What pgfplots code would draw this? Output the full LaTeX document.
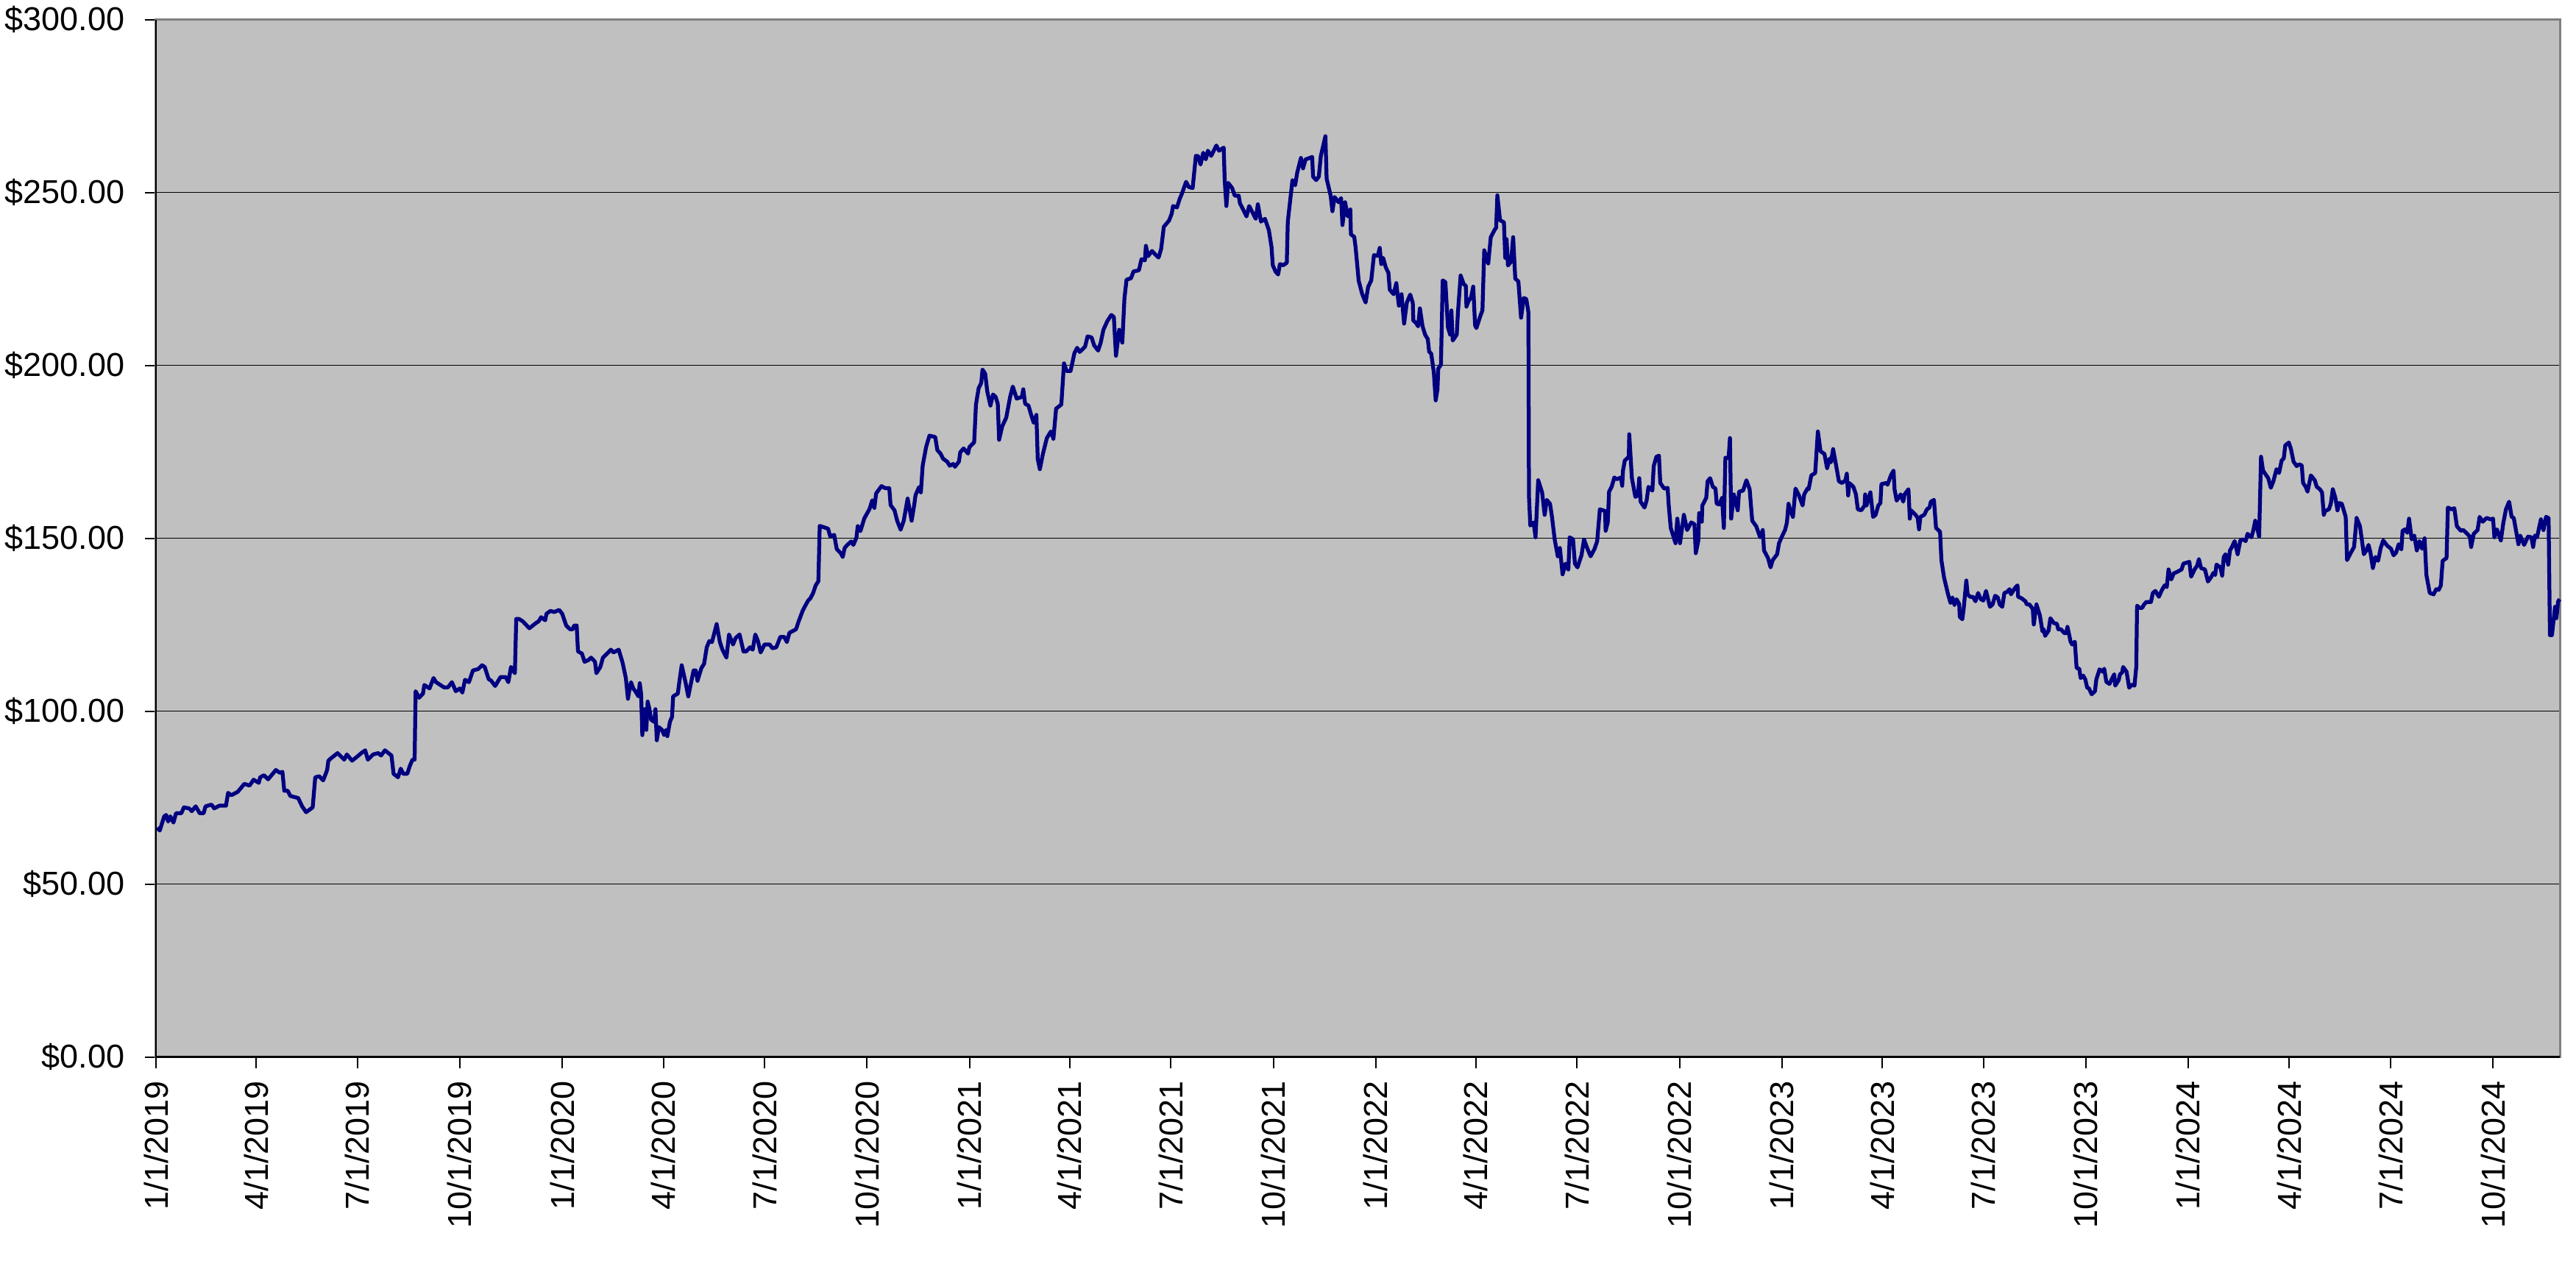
\documentclass[border=0pt]{standalone}
\usepackage{fontspec}
\setmainfont{Liberation Sans}
\usepackage{pgfplots}
\pgfplotsset{compat=1.18}
\definecolor{plotbg}{HTML}{C0C0C0}
\definecolor{navyline}{HTML}{000080}
\definecolor{framegray}{HTML}{808080}
\begin{document}
\begin{tikzpicture}
\begin{axis}[
  scale only axis, width=653.4bp, height=282bp,
  xmin=0, xmax=2160, ymin=0, ymax=300,
  axis background/.style={fill=plotbg},
  axis line style={draw=framegray, line width=0.6bp},
  ytick={0,50,100,150,200,250,300},
  yticklabels={\$0.00,\$50.00,\$100.00,\$150.00,\$200.00,\$250.00,\$300.00},
  xtick={0,90,181,273,365,456,547,639,731,821,912,1004,1096,1186,1277,1369,1461,1551,1642,1734,1826,1917,2008,2100},
  xticklabels={1/1/2019,4/1/2019,7/1/2019,10/1/2019,1/1/2020,4/1/2020,7/1/2020,10/1/2020,1/1/2021,4/1/2021,7/1/2021,10/1/2021,1/1/2022,4/1/2022,7/1/2022,10/1/2022,1/1/2023,4/1/2023,7/1/2023,10/1/2023,1/1/2024,4/1/2024,7/1/2024,10/1/2024},
  tick pos=left, tick align=outside,
  major tick length=3bp,
  tick style={black, line width=0.4bp},
  ymajorgrids, grid style={black, line width=0.3bp},
  xticklabel style={rotate=90, anchor=east},
  yticklabel style={xshift=-2bp},
  ticklabel style={font=\fontsize{9bp}{10bp}\selectfont},
  clip=false,
]
\addplot[navyline, line width=1.05bp, line join=round] coordinates {
(1.0,66.3)(3.4,65.5)(7.4,69.6)(9.1,70.0)(10.9,68.1)(12.8,69.6)(15.7,67.8)(18.0,70.5)(22.8,70.5)(25.1,72.2)(29.8,71.9)(32.2,71.1)(35.7,72.5)(39.3,70.5)(42.8,70.5)(44.5,72.5)(49.9,73.0)(52.3,71.9)(57.0,72.7)(62.9,72.7)(64.8,76.4)(67.6,75.7)(73.5,76.7)(79.4,79.0)(84.1,78.5)(87.7,80.2)(92.4,79.3)(93.6,80.9)(97.1,81.5)(100.7,80.3)(107.7,83.0)(111.3,82.2)(113.6,82.5)(115.3,77.0)(118.4,77.0)(120.7,75.5)(127.8,74.9)(131.3,72.5)(134.9,70.8)(140.8,72.2)(143.1,80.9)(146.7,81.2)(150.2,80.0)(153.8,83.0)(154.9,85.7)(157.3,86.4)(163.2,87.9)(169.1,86.0)(171.5,87.5)(176.2,85.7)(180.9,86.9)(184.5,87.9)(188.0,88.7)(190.4,86.0)(195.1,87.5)(199.8,87.9)(202.2,87.2)(205.7,88.7)(211.6,87.2)(213.5,81.9)(217.5,80.9)(219.9,83.4)(222.2,81.9)(225.8,81.9)(228.1,84.2)(230.5,86.0)(232.4,86.0)(233.3,105.8)(236.4,103.9)(239.9,105.1)(241.1,107.6)(245.8,106.6)(249.4,109.6)(251.7,108.4)(258.8,106.9)(262.3,106.9)(265.9,108.4)(269.4,105.8)(273.0,106.6)(275.3,105.4)(277.7,109.1)(281.2,108.4)(284.8,111.8)(289.5,112.2)(293.0,113.3)(295.4,112.8)(298.9,109.3)(301.3,108.8)(304.8,107.3)(309.6,109.9)(314.3,109.9)(316.6,108.4)(319.0,112.8)(322.5,111.0)(323.7,126.7)(326.1,126.7)(329.6,126.0)(335.5,124.0)(341.4,125.5)(343.8,126.0)(346.1,127.2)(349.7,126.3)(350.9,128.2)(354.4,129.0)(358.0,128.7)(362.2,129.3)
(365.0,128.2)(368.6,124.8)(372.1,123.7)(374.5,123.7)(375.7,124.8)(378.0,124.8)(379.2,117.3)(382.7,116.7)(385.1,114.3)(388.6,114.8)(391.0,115.5)(394.5,114.3)(395.7,111.0)(399.3,112.8)(401.6,115.5)(406.4,117.0)(408.7,117.8)(411.1,117.0)(415.8,117.8)(419.3,114.0)(422.2,109.6)(424.1,103.6)(425.2,105.8)(426.9,108.4)(428.8,106.6)(430.7,105.8)(433.5,104.3)(434.7,108.1)(435.9,105.1)(437.0,93.1)(438.7,100.6)(440.6,94.6)(441.8,102.8)(443.4,100.6)(444.8,97.6)(447.7,96.9)(448.8,100.6)(450.0,91.6)(451.9,95.4)(454.7,94.6)(456.6,93.1)(458.3,94.6)(459.5,92.8)(461.8,96.9)(463.7,98.4)(464.7,104.3)(468.9,105.1)(470.1,108.1)(472.4,113.3)(476.0,108.1)(478.3,104.3)(480.7,108.1)(483.1,111.8)(485.0,111.8)(486.6,108.8)(490.1,112.5)(492.5,113.7)(494.9,118.5)(497.2,120.3)(499.6,120.0)(503.8,125.2)(506.7,120.0)(509.0,117.8)(512.6,115.5)(514.9,122.2)(518.5,119.3)(520.9,121.2)(524.4,122.2)(527.9,117.3)(530.3,117.3)(533.8,118.5)(536.2,117.8)(538.5,122.2)(540.9,120.3)(543.3,117.0)(546.8,119.3)(551.5,119.3)(553.9,118.2)(557.4,118.5)(561.0,121.5)(564.5,121.5)(566.9,120.0)(569.2,122.7)(572.8,123.3)(575.1,123.7)(577.5,126.0)(581.0,129.0)(583.4,130.5)(585.8,131.9)(588.1,132.7)(590.5,134.2)(592.8,136.4)(595.2,137.6)(596.4,153.6)(601.1,153.1)(603.9,152.8)(605.8,150.6)(609.4,151.0)(611.7,146.9)(615.3,145.7)(617.1,144.6)(618.8,147.2)(621.2,148.1)(624.7,149.1)(626.6,148.1)(629.4,150.2)(630.6,153.6)(633.0,152.1)(636.5,155.8)(641.2,158.5)(643.6,161.0)(645.5,158.8)(647.1,163.0)(651.9,165.1)(655.4,164.5)(658.9,164.5)(660.1,159.6)(663.6,158.1)(666.0,155.1)(669.1,152.5)(671.9,155.1)(675.4,161.5)(679.0,155.1)(681.3,159.6)(682.5,162.5)(685.6,164.8)(687.3,163.3)(688.9,171.0)(692.0,176.4)(695.0,179.7)(700.2,179.3)(702.1,175.5)(705.0,174.5)(707.3,173.0)(710.9,172.2)(713.2,171.0)(716.3,171.5)(717.9,170.7)(721.5,172.2)(722.7,174.9)(725.7,176.0)
(729.7,174.5)(730.9,176.4)(735.2,177.8)(736.8,188.7)(739.2,193.4)(741.5,194.9)(742.7,198.8)(745.1,197.6)(747.0,192.4)(749.8,188.4)(752.1,191.6)(754.5,190.9)(756.4,188.9)(757.6,178.5)(760.4,182.4)(764.0,184.9)(767.5,190.9)(769.9,193.9)(773.4,190.4)(778.1,190.9)(779.3,193.1)(781.0,188.9)(784.0,188.4)(786.4,185.7)(788.7,183.4)(791.1,185.7)(792.3,173.0)(794.2,170.0)(797.0,174.5)(800.5,179.0)(804.1,180.9)(806.4,178.8)(808.8,187.5)(813.5,188.7)(815.9,200.6)(818.2,198.4)(821.8,198.4)(825.3,203.6)(827.7,205.1)(830.0,203.9)(834.8,205.4)(837.1,208.4)(840.7,208.1)(843.0,205.8)(846.6,204.3)(848.9,206.6)(851.3,210.3)(854.8,212.8)(858.4,214.6)(860.7,214.0)(862.6,202.8)(865.5,210.3)(868.3,206.6)(870.2,219.3)(872.1,224.8)(876.1,225.2)(878.4,227.2)(883.2,227.5)(885.5,230.7)(888.6,230.4)(889.5,234.6)(891.4,231.6)(895.0,233.1)(898.5,231.9)(900.9,231.2)(903.2,233.7)(905.6,240.1)(910.3,241.9)(912.7,243.9)(913.9,246.1)(917.4,245.7)(919.8,248.1)(922.1,249.9)(925.6,253.1)(928.0,251.6)(931.5,251.3)(934.4,260.6)(936.3,260.6)(938.6,258.1)(941.0,261.5)(943.3,259.6)(945.2,262.1)(948.1,260.6)(952.8,263.6)(955.2,262.1)(959.4,263.0)(960.3,253.6)(961.8,246.1)(963.4,252.8)(967.0,251.3)(969.3,249.1)(972.9,249.1)(974.0,246.9)(977.6,244.6)(979.9,243.1)(982.3,246.1)(985.8,243.9)(988.2,242.4)(990.1,246.6)(992.9,241.6)(996.5,242.4)(1000.0,239.1)(1002.4,234.2)(1003.5,229.0)(1005.9,227.2)(1008.3,226.3)(1009.9,229.3)(1013.0,229.0)(1016.1,229.7)(1017.0,241.6)(1021.2,253.6)(1023.6,252.1)(1025.5,255.8)(1028.8,260.0)(1030.7,257.0)(1033.0,259.6)(1036.6,260.0)(1038.9,260.3)(1039.7,254.6)(1042.5,253.6)(1044.9,254.6)(1046.7,260.6)(1050.8,266.3)(1051.9,254.0)(1055.5,249.1)(1057.1,244.6)(1059.0,248.7)(1062.6,247.2)(1064.9,248.4)(1066.1,240.6)(1068.5,247.2)(1070.8,243.1)(1073.2,245.1)(1073.7,237.9)(1076.7,237.2)(1077.9,234.2)(1080.7,224.5)(1083.8,220.7)(1086.9,218.2)(1089.2,222.7)
(1092.0,224.6)(1094.4,231.9)(1097.9,231.7)(1099.6,234.0)(1101.0,229.3)(1102.7,231.1)(1105.0,228.4)(1107.4,226.8)(1108.6,221.9)(1112.1,220.6)(1114.5,223.8)(1116.8,217.3)(1119.2,220.6)(1121.5,212.1)(1123.9,218.1)(1127.0,220.5)(1129.3,218.1)(1129.8,213.0)(1132.2,212.3)(1134.1,211.3)(1135.7,216.5)(1138.1,211.3)(1140.4,208.9)(1142.8,207.6)(1144.0,204.0)(1145.9,203.4)(1148.2,198.0)(1149.9,189.9)(1151.5,193.1)(1152.2,199.1)(1154.6,200.2)(1156.2,224.6)(1158.6,224.1)(1160.9,211.0)(1162.9,208.9)(1164.0,215.9)(1165.2,207.2)(1168.8,208.9)(1169.9,215.4)(1172.3,226.0)(1175.1,223.5)(1177.0,223.0)(1177.5,217.0)(1179.4,218.6)(1181.7,219.7)(1183.6,222.8)(1185.3,211.6)(1186.5,210.8)(1190.0,214.3)(1191.9,215.9)(1193.5,233.3)(1197.1,229.5)(1199.4,237.1)(1203.0,239.3)(1204.2,239.8)(1205.3,249.2)(1207.7,242.0)(1211.2,241.4)(1212.4,231.1)(1213.6,236.5)(1214.8,228.9)(1217.6,230.0)(1219.5,237.1)(1221.4,225.1)(1224.2,224.3)(1226.6,213.8)(1229.0,219.5)(1231.3,219.2)(1233.2,215.4)(1233.7,162.2)(1234.9,153.7)(1237.9,154.6)(1239.6,150.3)(1242.0,166.8)(1245.5,163.3)(1247.8,156.8)(1249.7,161.1)(1252.6,160.0)(1254.4,156.2)(1256.8,149.7)(1259.6,144.8)(1261.5,147.2)(1263.9,139.6)(1266.7,142.7)(1269.1,141.0)(1270.3,150.3)(1273.3,149.7)(1275.0,142.7)(1277.3,141.6)(1280.9,145.1)(1283.2,149.7)(1285.6,147.5)(1289.1,144.8)(1292.7,147.0)(1295.0,149.2)(1297.4,158.4)(1302.1,157.9)(1302.6,152.2)(1304.5,154.6)(1305.7,163.5)(1308.0,164.9)(1310.4,167.6)(1312.7,167.1)(1316.3,167.6)(1317.5,165.2)(1318.2,169.6)(1319.8,172.5)(1323.4,173.6)(1323.8,180.1)(1326.2,167.4)(1329.3,162.0)(1331.6,162.4)(1332.8,167.4)(1334.0,160.6)(1337.5,158.9)(1339.4,160.9)(1341.1,164.9)(1344.6,163.8)(1345.8,170.9)(1348.2,173.6)(1350.5,173.9)(1351.7,166.0)(1355.2,164.4)(1358.3,164.6)(1359.3,159.5)(1361.1,153.0)(1365.4,148.6)(1367.0,155.7)(1369.4,148.6)(1372.9,156.8)(1375.8,152.4)(1379.5,154.6)(1382.4,154.1)(1383.6,145.7)(1385.9,149.4)(1386.6,157.3)(1389.0,154.8)(1389.5,159.5)(1393.0,161.7)(1394.2,166.5)(1396.5,167.4)(1398.9,164.9)(1401.3,164.4)(1402.4,160.0)(1404.8,159.8)(1407.2,161.7)(1408.8,153.0)(1410.2,173.3)(1413.1,173.3)(1414.3,179.0)(1415.4,155.7)(1417.8,162.7)(1421.3,158.1)(1422.5,163.5)(1426.1,163.8)(1429.1,166.8)(1432.0,164.2)(1434.3,155.1)(1437.9,153.5)(1441.4,150.3)(1443.8,152.4)(1444.9,146.5)(1448.5,144.3)(1450.8,141.6)(1452.7,143.7)
(1456.7,145.4)(1458.4,148.6)(1461.4,150.8)(1463.8,152.4)(1465.5,154.6)(1466.9,160.0)(1468.5,158.1)(1470.9,156.2)(1473.2,164.4)(1476.3,162.4)(1479.6,159.5)(1481.0,162.7)(1483.9,164.4)(1485.0,164.2)(1487.4,168.2)(1490.9,168.9)(1493.3,180.9)(1495.7,175.2)(1499.2,174.4)(1501.6,170.3)(1503.9,173.1)(1505.1,172.0)(1507.0,175.8)(1509.8,170.9)(1512.2,166.5)(1515.0,166.0)(1518.1,166.8)(1519.3,168.7)(1520.5,162.4)(1521.6,166.0)(1525.2,164.9)(1527.5,162.7)(1529.2,158.4)(1532.3,158.1)(1535.3,159.5)(1535.8,162.7)(1537.0,159.5)(1540.5,163.3)(1542.9,156.2)(1545.2,156.8)(1547.6,159.5)(1549.5,160.2)(1550.4,165.7)(1554.7,166.0)(1555.9,165.5)(1558.9,168.2)(1561.3,169.6)(1562.2,164.2)(1564.1,160.9)(1567.7,162.7)(1570.0,160.6)(1571.2,162.7)(1574.7,164.2)(1575.9,155.7)(1577.1,158.1)(1581.1,156.8)(1583.0,155.9)(1584.2,152.6)(1585.4,156.2)(1588.9,156.8)(1591.3,158.4)(1593.6,158.9)(1594.8,160.6)(1597.6,161.1)(1599.5,153.0)(1603.1,151.9)(1604.3,143.7)(1606.6,138.8)(1610.2,133.9)(1612.5,131.3)(1614.2,132.9)(1616.1,130.7)(1617.9,132.4)(1620.3,131.0)(1620.8,127.3)(1623.1,126.6)(1624.3,129.6)(1626.7,137.8)(1627.9,133.8)(1630.2,133.1)(1632.6,133.1)(1634.9,131.8)(1637.3,134.2)(1639.7,132.4)(1642.0,132.0)(1644.4,134.8)(1647.9,130.2)(1650.3,130.9)(1652.6,133.4)(1655.0,132.9)(1656.7,130.9)(1659.0,130.2)(1660.9,134.2)(1663.3,134.5)(1665.6,135.3)(1666.8,133.8)(1670.3,135.6)(1672.7,136.4)(1673.2,133.1)(1676.2,132.7)(1679.8,131.8)(1681.0,130.9)(1683.3,130.9)(1686.4,129.6)(1687.3,125.1)(1689.7,130.9)(1692.8,127.7)(1695.1,123.1)(1696.3,123.7)(1697.5,121.8)(1700.6,123.3)(1702.2,126.9)(1705.3,125.5)(1708.1,125.3)(1709.3,123.7)(1711.7,123.7)(1714.7,122.6)(1716.4,122.6)(1717.6,124.4)(1720.4,120.1)(1721.8,119.3)(1724.2,120.1)(1725.8,112.5)(1728.2,112.3)(1729.4,109.6)(1731.7,110.3)(1733.6,109.2)(1735.3,106.8)(1736.9,106.6)(1739.3,104.9)(1742.3,105.8)(1743.5,109.2)(1746.4,112.1)(1749.4,111.4)(1750.6,112.3)(1752.5,108.5)(1755.3,107.9)(1759.6,110.7)(1760.5,107.4)(1763.6,109.0)(1764.8,110.7)(1766.7,111.2)(1767.6,112.8)(1770.7,111.4)(1773.0,106.8)(1775.4,107.7)(1777.8,107.4)(1779.4,112.8)(1780.1,130.5)(1782.5,129.9)(1784.8,129.9)(1786.0,130.7)(1788.4,131.6)(1792.6,131.6)(1794.3,134.2)(1796.6,134.8)(1799.7,133.1)(1802.5,135.1)(1804.9,136.4)(1806.8,135.9)(1808.4,141.0)(1810.8,138.1)(1813.2,139.9)(1816.2,140.3)
(1820.1,141.0)(1821.8,142.7)(1827.1,143.2)(1828.7,138.9)(1831.8,141.0)(1834.1,142.1)(1835.7,144.0)(1837.6,141.4)(1841.1,141.0)(1843.8,137.5)(1846.9,138.9)(1848.7,140.0)(1850.3,139.4)(1851.5,142.4)(1855.0,141.6)(1856.6,139.2)(1858.0,144.6)(1859.6,145.4)(1862.0,142.4)(1863.6,146.5)(1865.4,147.5)(1867.8,149.2)(1870.5,145.4)(1872.9,149.4)(1875.2,149.7)(1877.7,149.2)(1879.4,151.3)(1882.9,150.3)(1884.5,152.2)(1886.3,155.1)(1888.0,153.0)(1889.8,150.5)(1891.5,173.6)(1893.3,169.6)(1895.6,168.5)(1898.0,167.4)(1900.3,164.6)(1902.6,166.5)(1905.4,170.0)(1907.7,168.9)(1910.0,172.5)(1911.9,173.1)(1913.3,176.9)(1916.5,177.7)(1918.4,175.8)(1920.7,172.2)(1923.5,170.9)(1925.8,171.4)(1928.1,171.1)(1929.3,166.0)(1931.6,164.9)(1933.3,163.5)(1936.3,168.2)(1939.8,166.8)(1941.6,164.9)(1944.4,164.2)(1946.3,163.3)(1947.9,156.8)(1949.1,157.9)(1952.5,158.4)(1954.2,160.0)(1956.0,164.2)(1958.3,161.7)(1960.2,158.1)(1961.8,160.2)(1964.1,160.0)(1967.6,156.2)(1968.8,143.7)(1972.3,145.9)(1975.1,147.5)(1977.4,155.9)(1980.4,153.5)(1983.9,145.4)(1986.2,146.5)(1988.1,148.1)(1989.7,146.1)(1992.0,141.4)(1994.3,144.6)(1996.7,143.5)(1999.0,147.2)(2001.3,149.4)(2004.8,147.9)(2008.3,147.0)(2010.6,145.1)(2012.9,145.9)(2015.2,148.3)(2017.6,146.8)(2018.7,152.2)(2021.0,152.6)(2022.9,151.6)(2024.5,155.7)(2026.9,149.7)(2029.2,150.8)(2031.5,146.5)(2033.8,149.2)(2036.1,147.0)(2038.5,150.0)(2040.1,139.4)(2043.1,134.2)(2046.6,133.8)(2048.9,135.3)(2051.2,135.1)(2053.1,136.4)(2054.7,143.5)(2058.2,144.3)(2059.4,158.9)(2062.8,158.4)(2065.2,158.7)(2067.5,153.5)(2071.0,152.2)(2073.3,152.4)(2076.8,151.3)(2079.1,150.5)(2080.3,147.5)(2082.6,151.3)(2086.1,152.4)(2087.9,156.2)(2090.7,154.8)(2094.2,155.9)(2097.7,155.5)(2100.0,155.7)(2101.2,150.3)(2103.5,152.6)(2107.0,149.4)(2109.3,154.6)(2111.6,158.4)(2114.4,160.6)(2116.7,156.2)(2118.6,155.9)(2122.8,148.3)(2124.4,150.8)(2127.9,148.1)(2131.4,150.5)(2134.4,150.3)(2136.0,147.5)(2137.6,150.8)(2139.5,150.3)(2143.0,155.5)(2145.3,152.4)(2147.6,156.2)(2149.9,155.9)(2151.1,122.0)(2152.9,122.0)(2155.7,130.2)(2156.9,126.9)(2158.5,131.8)(2159.9,132.4)
};
\draw[black, line width=0.5bp] (rel axis cs:0,1) -- (rel axis cs:0,0) -- (rel axis cs:1,0);
\coordinate (bl) at (rel axis cs:0,0);
\coordinate (tr) at (rel axis cs:1,1);
\end{axis}
\pgfresetboundingbox
\path ([xshift=-42.4bp,yshift=-56.1bp]bl) rectangle ([xshift=4.4bp,yshift=5.34bp]tr);
\end{tikzpicture}
\end{document}
